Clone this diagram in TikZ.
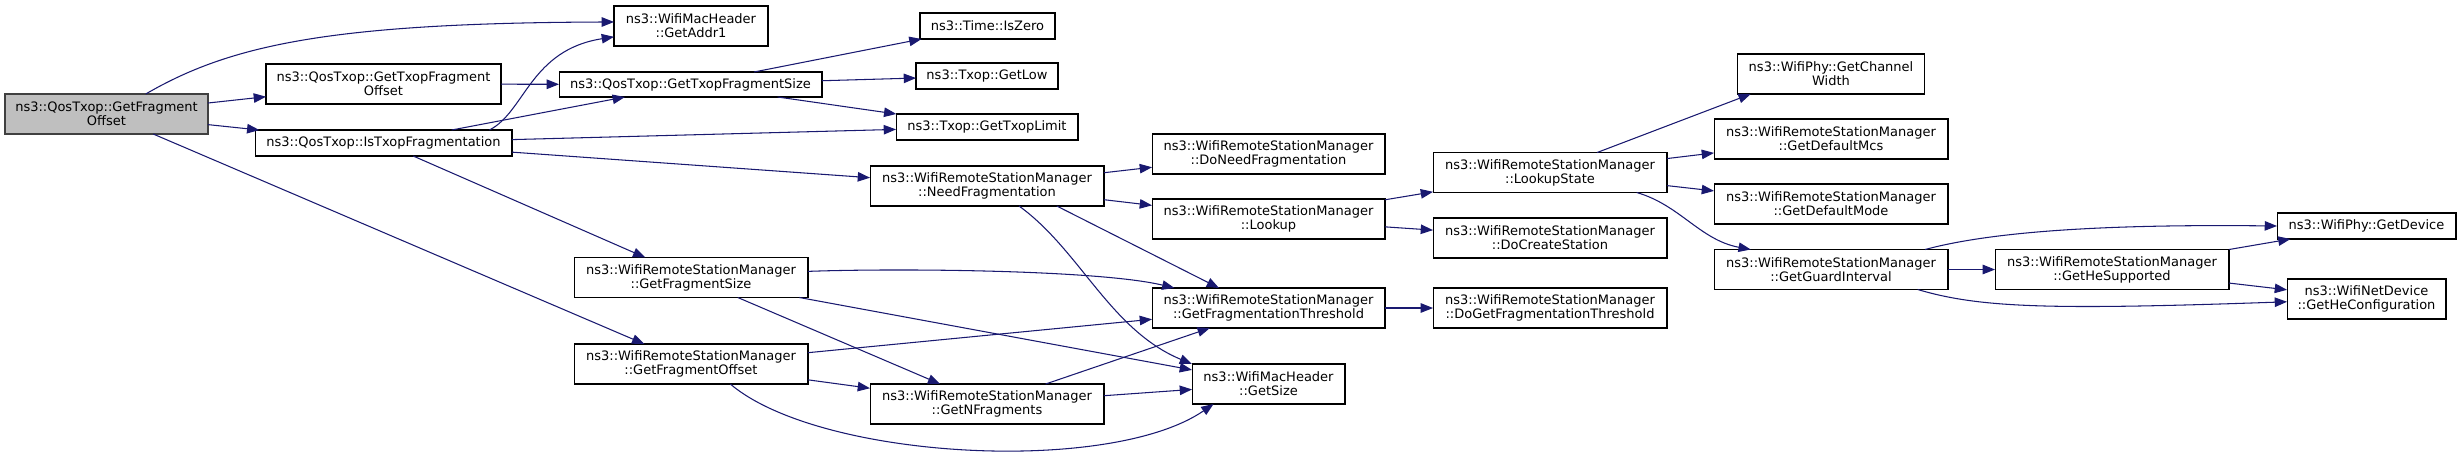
\documentclass[tikz,border=0pt]{standalone}
\usepackage{fontspec}
\setmainfont{DejaVu Sans}
\usepackage{tikz}
\usetikzlibrary{arrows.meta}
\definecolor{CallBlue}{HTML}{191970}
\definecolor{RootFill}{HTML}{BFBFBF}
\definecolor{RootLine}{HTML}{404040}

\begin{document}
\begin{tikzpicture}[x=0.02cm, y=-0.02cm, font=\fontsize{7.4}{8}\selectfont,
  fn/.style={draw=black, line width=0.6pt, fill=white, align=center, inner sep=0pt,
    outer sep=0pt, minimum height=0.8cm, minimum width=4.68cm},
  fnflat/.style={fn, minimum height=0.52cm},
  call/.style={draw=CallBlue, line width=0.6pt, -{Triangle[length=7pt,width=5.4pt]}}]
  \useasboundingbox[fill=white] (0,0) rectangle (2461,457);
  % caller
  \node[fn, fill=RootFill, draw=RootLine, minimum width=4.06cm] (root) at (106.5,114)
    {ns3::QosTxop::GetFragment\\Offset};
  % QosTxop level
  \node[fn, minimum width=3.08cm] (addr1) at (691,26) {ns3::WifiMacHeader\\::GetAddr1};
  \node[fn, minimum width=4.70cm] (txfo) at (383.5,84) {ns3::QosTxop::GetTxopFragment\\Offset};
  \node[fnflat, minimum width=5.26cm, minimum height=0.5cm] (txfs) at (690.5,84.5)
    {ns3::QosTxop::GetTxopFragmentSize};
  \node[fnflat, minimum width=5.14cm] (itf) at (383.5,143) {ns3::QosTxop::IsTxopFragmentation};
  \node[fn] (fsize) at (691,277.5) {ns3::WifiRemoteStationManager\\::GetFragmentSize};
  \node[fn] (foff) at (691,364) {ns3::WifiRemoteStationManager\\::GetFragmentOffset};
  % third column
  \node[fnflat, minimum width=2.70cm] (iszero) at (987.5,26) {ns3::Time::IsZero};
  \node[fnflat, minimum width=2.84cm] (getlow) at (987,76) {ns3::Txop::GetLow};
  \node[fnflat, minimum width=3.64cm] (txlimit) at (987,127) {ns3::Txop::GetTxopLimit};
  \node[fn] (needfrag) at (987,186) {ns3::WifiRemoteStationManager\\::NeedFragmentation};
  \node[fn] (nfrags) at (987,404) {ns3::WifiRemoteStationManager\\::GetNFragments};
  % fourth column
  \node[fn, minimum width=4.66cm] (doneed) at (1268.5,154) {ns3::WifiRemoteStationManager\\::DoNeedFragmentation};
  \node[fn, minimum width=4.66cm] (lookup) at (1268.5,219) {ns3::WifiRemoteStationManager\\::Lookup};
  \node[fn, minimum width=4.66cm] (fthresh) at (1268.5,308) {ns3::WifiRemoteStationManager\\::GetFragmentationThreshold};
  \node[fn, minimum width=3.06cm] (macsize) at (1268.5,384) {ns3::WifiMacHeader\\::GetSize};
  % fifth column
  \node[fn] (lstate) at (1550,172.5) {ns3::WifiRemoteStationManager\\::LookupState};
  \node[fn] (docreate) at (1550,238) {ns3::WifiRemoteStationManager\\::DoCreateStation};
  \node[fn] (dogetth) at (1550,308) {ns3::WifiRemoteStationManager\\::DoGetFragmentationThreshold};
  % sixth column
  \node[fn, minimum width=3.74cm] (chwidth) at (1831,74) {ns3::WifiPhy::GetChannel\\Width};
  \node[fn] (defmcs) at (1831,139) {ns3::WifiRemoteStationManager\\::GetDefaultMcs};
  \node[fn] (defmode) at (1831,204) {ns3::WifiRemoteStationManager\\::GetDefaultMode};
  \node[fn] (guard) at (1831,269.5) {ns3::WifiRemoteStationManager\\::GetGuardInterval};
  \node[fn] (hesup) at (2112,269.5) {ns3::WifiRemoteStationManager\\::GetHeSupported};
  \node[fnflat, minimum width=3.58cm] (getdev) at (2366.5,226) {ns3::WifiPhy::GetDevice};
  \node[fn, minimum width=3.18cm] (heconf) at (2366.5,299) {ns3::WifiNetDevice\\::GetHeConfiguration};
  % calls
  \draw[call] (root.27.5) .. controls (230,45) and (330,23) .. (addr1.177.8);
  \draw[call] (root) -- (txfo);
  \draw[call] (root) -- (itf);
  \draw[call] (root) -- (foff);
  \draw[call] (txfo) -- (txfs);
  \draw[call] (itf.7.5) .. controls (525,112) and (530,50) .. (addr1.188.1);
  \draw[call] (itf) -- (txfs);
  \draw[call] (itf) -- (txlimit);
  \draw[call] (itf) -- (needfrag);
  \draw[call] (itf) -- (fsize);
  \draw[call] (txfs) -- (iszero);
  \draw[call] (txfs) -- (getlow);
  \draw[call] (txfs) -- (txlimit);
  \draw[call] (needfrag) -- (doneed);
  \draw[call] (needfrag) -- (lookup);
  \draw[call] (needfrag.-16.6) -- (fthresh.158);
  \draw[call] (needfrag.-32) .. controls (1080,250) and (1110,330) .. (macsize.north west);
  \draw[call] (lookup) -- (lstate);
  \draw[call] (lookup) -- (docreate);
  \draw[call] (lstate.23.5) -- (chwidth.194.7);
  \draw[call] (lstate) -- (defmcs);
  \draw[call] (lstate) -- (defmode);
  \draw[call] (lstate.-13.1) .. controls (1680,205) and (1700,240) .. (guard.166.3);
  \draw[call] (guard.12.3) .. controls (1990,232) and (2100,224) .. (getdev.west);
  \draw[call] (guard) -- (hesup);
  \draw[call] (guard.-13.1) .. controls (1980,308) and (2050,310) .. (heconf.182.9);
  \draw[call] (hesup) -- (getdev);
  \draw[call] (hesup) -- (heconf);
  \draw[call] (fthresh) -- (dogetth);
  \draw[call] (fsize.3.7) .. controls (900,268) and (1100,270) .. (fthresh.168.3);
  \draw[call] (fsize) -- (macsize);
  \draw[call] (fsize) -- (nfrags);
  \draw[call] (foff) -- (fthresh);
  \draw[call] (foff) -- (nfrags);
  \draw[call] (foff.-27.1) .. controls (820,460) and (1110,475) .. (macsize.200.5);
  \draw[call] (nfrags) -- (fthresh);
  \draw[call] (nfrags) -- (macsize);
\end{tikzpicture}
\end{document}
